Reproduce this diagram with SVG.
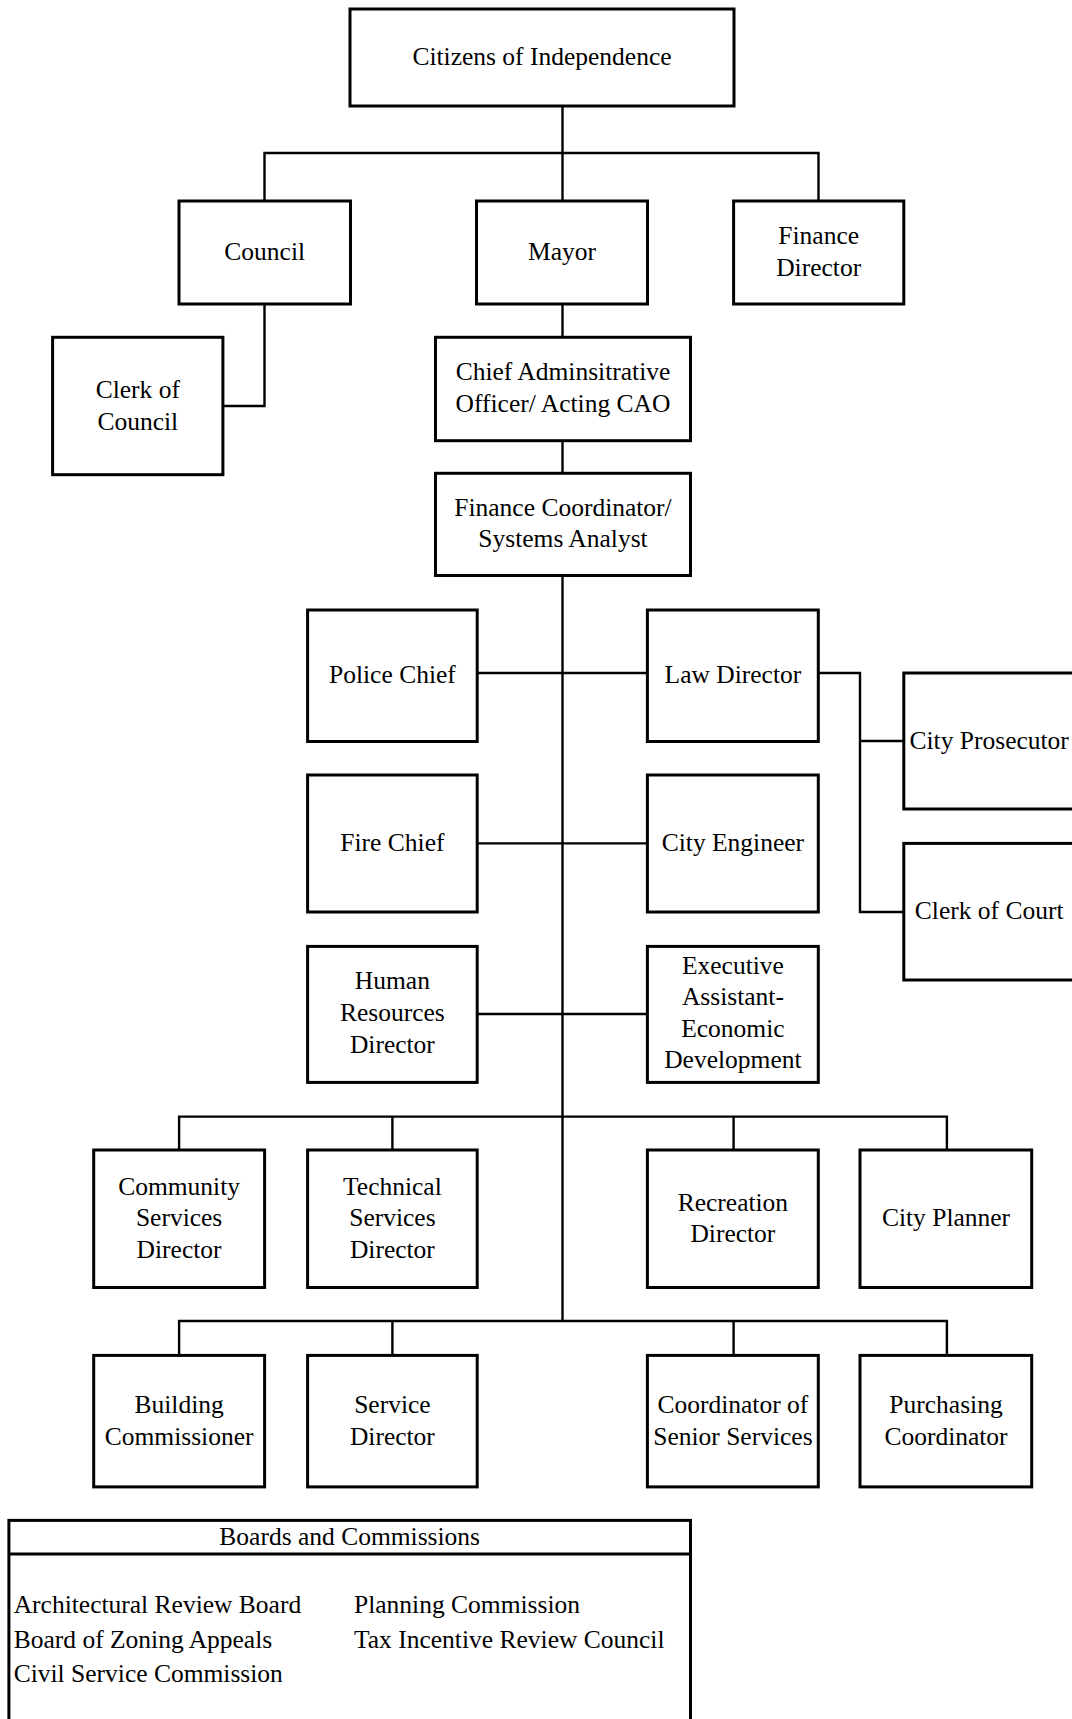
<svg xmlns="http://www.w3.org/2000/svg" width="1072" height="1719" viewBox="0 0 1072 1719">
<style>
.box{fill:#fff;stroke:#000;stroke-width:3}
.c{fill:none;stroke:#000;stroke-width:2.4}
text{font-family:"Liberation Serif","Times New Roman",serif;font-size:25.5px;fill:#000;text-anchor:middle}
.l{text-anchor:start}
</style>
<rect width="1072" height="1719" fill="#fff"/>
<g id="connectors">
<path class="c" d="M562.5 106V1321"/>
<path class="c" d="M264.5 201V153H818.5V201"/>
<path class="c" d="M264.5 304V406H223"/>
<path class="c" d="M477.2 673H647.4"/>
<path class="c" d="M818.3 673H860V912H903.8M860 741H903.8"/>
<path class="c" d="M477.2 843.4H647.4"/>
<path class="c" d="M477.2 1014H647.4"/>
<path class="c" d="M179.1 1150V1116.6H946.9V1150M392.4 1116.6V1150M733.6 1116.6V1150"/>
<path class="c" d="M179.1 1355.4V1321H946.9V1355.4M392.4 1321V1355.4M733.6 1321V1355.4"/>
</g>
<g id="citizens"><rect class="box" x="350" y="9" width="384" height="97"/><text x="542" y="65">Citizens of Independence</text></g>
<g id="council"><rect class="box" x="179" y="201" width="171.5" height="103"/><text x="264.7" y="260">Council</text></g>
<g id="mayor"><rect class="box" x="476.5" y="201" width="171" height="103"/><text x="562" y="260">Mayor</text></g>
<g id="finance-director"><rect class="box" x="733.6" y="201" width="170.2" height="103"/><text x="818.7" y="244.3">Finance</text><text x="818.7" y="275.7">Director</text></g>
<g id="clerk-council"><rect class="box" x="52.6" y="337.3" width="170.3" height="137.4"/><text x="137.8" y="398.3">Clerk of</text><text x="137.8" y="430">Council</text></g>
<g id="cao"><rect class="box" x="435.5" y="337.3" width="255" height="103.4"/><text x="563" y="380">Chief Adminsitrative</text><text x="563" y="412">Officer/ Acting CAO</text></g>
<g id="finance-coordinator"><rect class="box" x="435.5" y="473.3" width="255" height="102.2"/><text x="563" y="516">Finance Coordinator/</text><text x="563" y="547.4">Systems Analyst</text></g>
<g id="police"><rect class="box" x="307.6" y="610" width="169.6" height="131.5"/><text x="392.4" y="683.3">Police Chief</text></g>
<g id="law"><rect class="box" x="647.4" y="610" width="170.9" height="131.5"/><text x="732.9" y="683.3">Law Director</text></g>
<g id="prosecutor"><rect class="box" x="903.8" y="673" width="170.7" height="136"/><text x="989.2" y="748.7">City Prosecutor</text></g>
<g id="clerk-court"><rect class="box" x="903.8" y="843.4" width="170.7" height="136.6"/><text x="989.2" y="919.2">Clerk of Court</text></g>
<g id="fire"><rect class="box" x="307.6" y="775" width="169.6" height="137"/><text x="392.4" y="851">Fire Chief</text></g>
<g id="engineer"><rect class="box" x="647.4" y="775" width="170.9" height="137"/><text x="732.9" y="851">City Engineer</text></g>
<g id="hr"><rect class="box" x="307.6" y="946.4" width="169.6" height="136"/><text x="392.4" y="989.4">Human</text><text x="392.4" y="1021">Resources</text><text x="392.4" y="1053">Director</text></g>
<g id="exec"><rect class="box" x="647.4" y="946.4" width="170.9" height="136"/><text x="732.9" y="973.5">Executive</text><text x="732.9" y="1005">Assistant-</text><text x="732.9" y="1036.5">Economic</text><text x="732.9" y="1068">Development</text></g>
<g id="community"><rect class="box" x="93.7" y="1150" width="170.9" height="137.5"/><text x="179.1" y="1194.7">Community</text><text x="179.1" y="1226.3">Services</text><text x="179.1" y="1258">Director</text></g>
<g id="technical"><rect class="box" x="307.6" y="1150" width="169.6" height="137.5"/><text x="392.4" y="1194.7">Technical</text><text x="392.4" y="1226.3">Services</text><text x="392.4" y="1258">Director</text></g>
<g id="recreation"><rect class="box" x="647.4" y="1150" width="170.9" height="137.5"/><text x="732.9" y="1210.5">Recreation</text><text x="732.9" y="1242">Director</text></g>
<g id="planner"><rect class="box" x="860" y="1150" width="171.7" height="137.5"/><text x="946" y="1226.3">City Planner</text></g>
<g id="building"><rect class="box" x="93.7" y="1355.4" width="170.9" height="131.5"/><text x="179.1" y="1413">Building</text><text x="179.1" y="1444.5">Commissioner</text></g>
<g id="service"><rect class="box" x="307.6" y="1355.4" width="169.6" height="131.5"/><text x="392.4" y="1413">Service</text><text x="392.4" y="1444.5">Director</text></g>
<g id="senior"><rect class="box" x="647.4" y="1355.4" width="170.9" height="131.5"/><text x="732.9" y="1413">Coordinator of</text><text x="732.9" y="1444.5">Senior Services</text></g>
<g id="purchasing"><rect class="box" x="860" y="1355.4" width="171.7" height="131.5"/><text x="946" y="1413">Purchasing</text><text x="946" y="1444.5">Coordinator</text></g>
<g id="boards">
<rect class="box" x="8.9" y="1520.4" width="681.6" height="220"/>
<path class="c" style="stroke-width:3" d="M8.9 1554H690.5"/>
<text x="349.7" y="1545">Boards and Commissions</text>
<text class="l" x="13.7" y="1613">Architectural Review Board</text>
<text class="l" x="13.7" y="1648">Board of Zoning Appeals</text>
<text class="l" x="13.7" y="1681.5">Civil Service Commission</text>
<text class="l" x="354" y="1613">Planning Commission</text>
<text class="l" x="354" y="1648">Tax Incentive Review Council</text>
</g>
</svg>
